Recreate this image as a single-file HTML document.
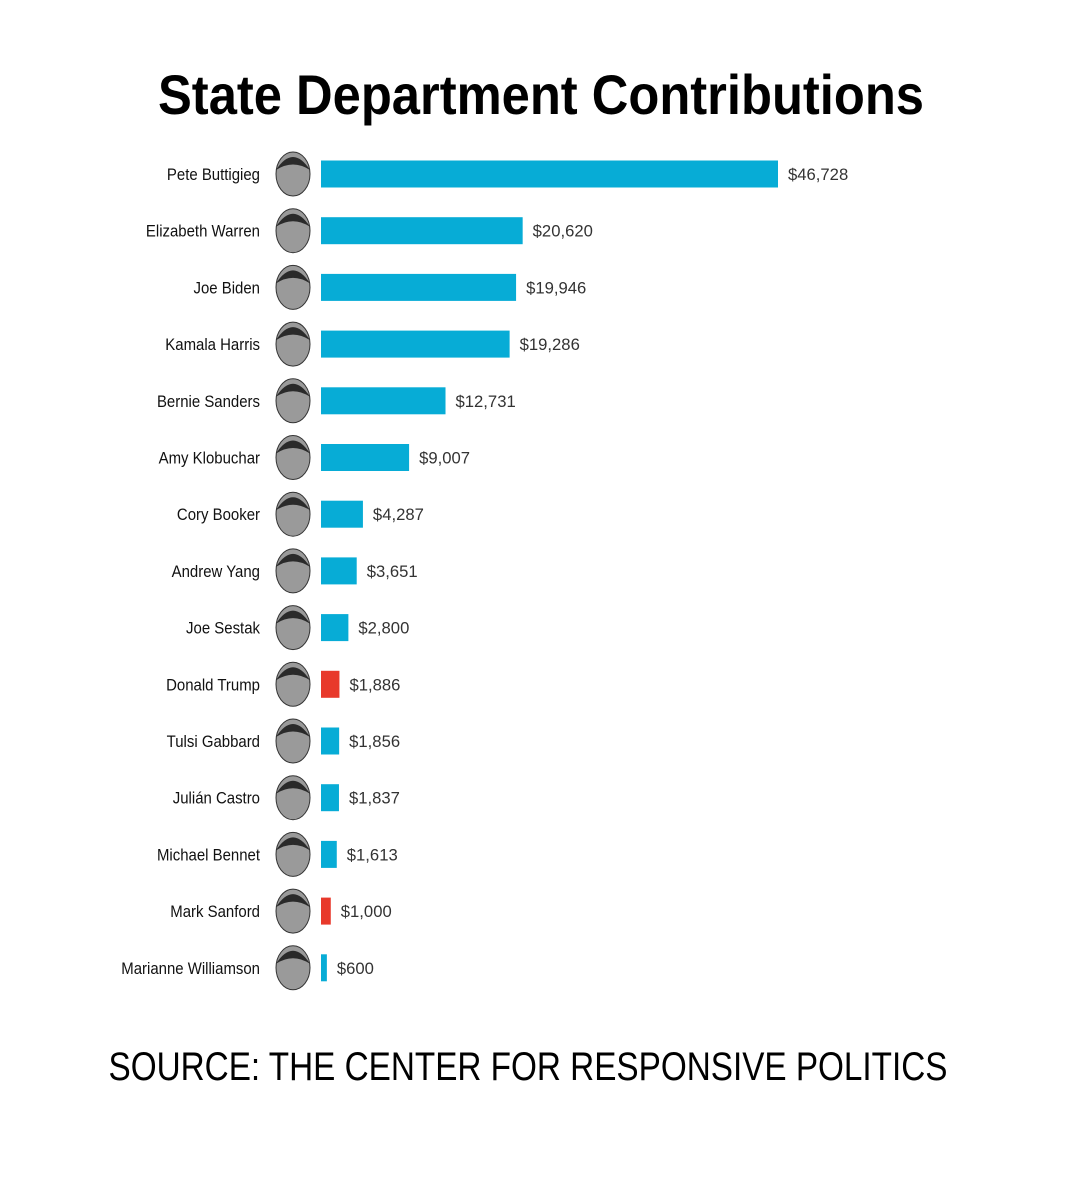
<!DOCTYPE html>
<html><head><meta charset="utf-8">
<style>
body{margin:0;background:#fff;}
#wrap{position:relative;width:1080px;height:1180px;overflow:hidden;font-family:"Liberation Sans",sans-serif;}
</style></head>
<body>
<div id="wrap">
<svg id="chart" width="1080" height="1180">
<text x="541" y="114" text-anchor="middle" textLength="766" lengthAdjust="spacingAndGlyphs" font-family="Liberation Sans, sans-serif" font-weight="bold" font-size="56" fill="#000">State Department Contributions</text>
<text x="528" y="1080" text-anchor="middle" textLength="839" lengthAdjust="spacingAndGlyphs" font-family="Liberation Sans, sans-serif" font-size="40" fill="#000">SOURCE: THE CENTER FOR RESPONSIVE POLITICS</text>
<g id="rows"></g>
</svg>
</div>
<script>
const names = ["Pete Buttigieg","Elizabeth Warren","Joe Biden","Kamala Harris","Bernie Sanders","Amy Klobuchar","Cory Booker","Andrew Yang","Joe Sestak","Donald Trump","Tulsi Gabbard","Julián Castro","Michael Bennet","Mark Sanford","Marianne Williamson"];
const values = [46728,20620,19946,19286,12731,9007,4287,3651,2800,1886,1856,1837,1613,1000,600];
const party = ["D","D","D","D","D","D","D","D","D","R","D","D","D","R","D"];
const valueLabels = ["$46,728","$20,620","$19,946","$19,286","$12,731","$9,007","$4,287","$3,651","$2,800","$1,886","$1,856","$1,837","$1,613","$1,000","$600"];

const NS="http://www.w3.org/2000/svg";
const x0=321, pxPerDollar=457/46728;
const xScale=v=>v*pxPerDollar;
const yScale=i=>174+i*56.7;
const g=document.getElementById('rows');
function mk(tag,attrs){const e=document.createElementNS(NS,tag);for(const k in attrs)e.setAttribute(k,attrs[k]);return e;}
names.forEach((n,i)=>{
  const y=yScale(i);
  const lab=mk('text',{x:0,y:0,transform:`translate(260,${y+6}) scale(0.88,1)`,'text-anchor':'end','font-size':17,'font-family':'Liberation Sans, sans-serif',fill:'#111'});
  lab.textContent=n;
  
  
  g.appendChild(lab);
  const face=mk('ellipse',{cx:293,cy:y,rx:17,ry:22,fill:'#9a9a9a',stroke:'#333','stroke-width':1});
  
  
  g.appendChild(face);
  const hair=mk('path',{d:`M276 ${y-4} Q293 ${y-30} 310 ${y-4} Q293 ${y-15} 276 ${y-4}Z`,fill:'#2a2a2a'});
  
  
  g.appendChild(hair);
  const w=xScale(values[i]);
  const bar=mk('rect',{x:x0,y:y-13.5,width:w,height:27,fill:party[i]==='R'?'#e8392b':'#07acd6'});
  
  
  g.appendChild(bar);
  const vl=mk('text',{x:0,y:0,transform:`translate(${x0+w+10},${y+6}) scale(0.98,1)`,'font-size':17,'font-family':'Liberation Sans, sans-serif',fill:'#333'});
  vl.textContent=valueLabels[i];
  
  
  g.appendChild(vl);
});
</script>
</body></html>
